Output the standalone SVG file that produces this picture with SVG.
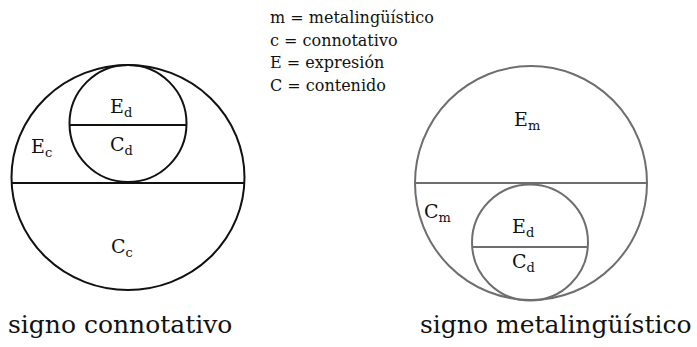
<svg xmlns="http://www.w3.org/2000/svg" width="697" height="347" viewBox="0 0 697 347">
<style>
.k{fill:none;stroke:#111;stroke-width:2}
.g{fill:none;stroke:#6e6e6e;stroke-width:2}
.t{font-family:"DejaVu Serif","Liberation Serif",serif;fill:#111}
.lab{font-size:19px}
.sub{font-size:13px}
.leg{font-size:16px}
.cap{font-size:25px}
</style>
<rect width="697" height="347" fill="#fff"/>
<g id="legend" class="t leg">
<text x="270" y="23">m = metalingüístico</text>
<text x="270" y="45.5">c = connotativo</text>
<text x="270" y="68">E = expresión</text>
<text x="270" y="90.5">C = contenido</text>
</g>
<g id="signo-connotativo">
<ellipse class="k" cx="128" cy="177.5" rx="116.5" ry="112.5"/>
<line class="k" x1="11.6" y1="183" x2="244.4" y2="183"/>
<circle class="k" cx="128" cy="123.5" r="58.5"/>
<line class="k" x1="69.5" y1="125" x2="186.5" y2="125"/>
<text class="t lab" x="110" y="113">E<tspan class="sub" dy="4">d</tspan></text>
<text class="t lab" x="110" y="151">C<tspan class="sub" dy="4">d</tspan></text>
<text class="t lab" x="31" y="153">E<tspan class="sub" dy="4">c</tspan></text>
<text class="t lab" x="111" y="253">C<tspan class="sub" dy="4">c</tspan></text>
<text class="t cap" x="8" y="333">signo connotativo</text>
</g>
<g id="signo-metalinguistico">
<ellipse class="g" cx="531" cy="183" rx="116" ry="117"/>
<line class="g" x1="415" y1="183" x2="647" y2="183"/>
<circle class="g" cx="530" cy="242.5" r="58"/>
<line class="g" x1="472.2" y1="247" x2="587.8" y2="247"/>
<text class="t lab" x="514" y="126">E<tspan class="sub" dy="4">m</tspan></text>
<text class="t lab" x="424" y="218">C<tspan class="sub" dy="4">m</tspan></text>
<text class="t lab" x="512" y="233">E<tspan class="sub" dy="4">d</tspan></text>
<text class="t lab" x="512" y="268">C<tspan class="sub" dy="4">d</tspan></text>
<text class="t cap" x="420" y="333">signo metalingüístico</text>
</g>
<g id="connectors"></g>
</svg>
